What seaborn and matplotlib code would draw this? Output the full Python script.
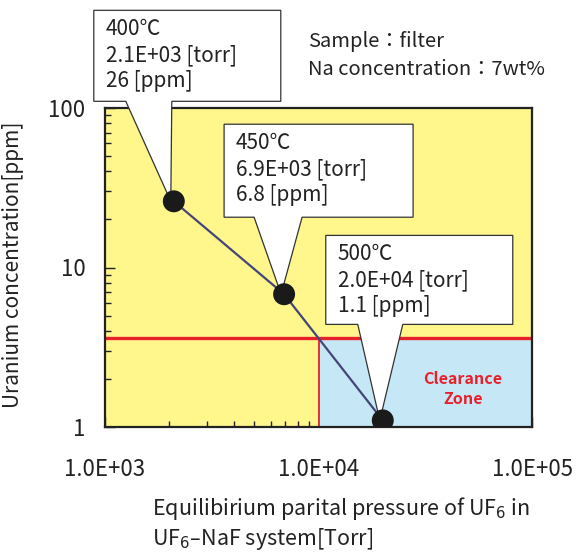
import numpy as np
import pandas as pd
import matplotlib
matplotlib.use("Agg")
import matplotlib.pyplot as plt
import matplotlib.transforms as mtransforms
from matplotlib.patches import Polygon, Rectangle
from matplotlib.ticker import FixedLocator, FixedFormatter, LogLocator, NullFormatter
import seaborn as sns

# ---- data ----
temperatures = [400, 450, 500]
pressure_torr = [2.1e3, 6.9e3, 2.0e4]
pressure_labels = ["2.1E+03", "6.9E+03", "2.0E+04"]
uranium_ppm = [26, 6.8, 1.1]
x_ticks = [1e3, 1e4, 1e5]
x_tick_labels = ["1.0E+03", "1.0E+04", "1.0E+05"]
y_ticks = [1, 10, 100]
y_tick_labels = ["1", "10", "100"]
clearance_limit_ppm = 3.6
clearance_x_start = 1e4

# ---- style ----
sns.set_style("ticks")
plt.rcParams["font.family"] = ["Noto Sans CJK JP", "DejaVu Sans"]
plt.rcParams["mathtext.fontset"] = "dejavusans"

YELLOW = "#FFF68C"
BLUE = "#C6E7F6"
RED = "#E8202A"
NAVY = "#45457A"
DARK = "#222222"

W, H = 587, 554
fig = plt.figure(figsize=(W / 100, H / 100), dpi=100)
ax = fig.add_axes([105 / W, 1 - 427 / H, 427 / W, 319 / H])
ax.set_xscale("log")
ax.set_yscale("log")
ax.set_xlim(x_ticks[0], x_ticks[-1])
ax.set_ylim(y_ticks[0], y_ticks[-1])
ax.set_facecolor(YELLOW)

# clearance zone
ax.add_patch(Rectangle((clearance_x_start, y_ticks[0]),
                       x_ticks[-1] - clearance_x_start,
                       clearance_limit_ppm - y_ticks[0],
                       facecolor=BLUE, edgecolor=RED, lw=1.3, zorder=1))
ax.axhline(clearance_limit_ppm, color=RED, lw=2.4, zorder=2)
ax.text(4.75e4, 1.74, "Clearance\nZone", color=RED, fontweight="bold",
        ha="center", va="center", fontsize=11.5, linespacing=1.3, zorder=3)

df = pd.DataFrame({"pressure": pressure_torr, "uranium": uranium_ppm,
                   "temp": temperatures})
sns.lineplot(data=df, x="pressure", y="uranium", color=NAVY, lw=1.6,
             ax=ax, zorder=3)
sns.scatterplot(data=df, x="pressure", y="uranium", color="#1a1a1a",
                s=250, edgecolor="none", ax=ax, zorder=8)

# callouts (offsets in pixels relative to each point)
callout_geom = [
    dict(L=-80, R=107, T=191, B=100, b1=-48, b2=-2),
    dict(L=-60, R=129, T=170, B=77, b1=-30, b2=18),
    dict(L=-57, R=130, T=185, B=96, b1=-25, b2=20),
]
for (t, px, pl, u), g in zip(zip(temperatures, pressure_torr, pressure_labels,
                                 uranium_ppm), callout_geom):
    trans = mtransforms.Affine2D().scale(fig.dpi / 100.0) + \
        mtransforms.ScaledTranslation(px, u, ax.transData)
    verts = [(g["L"], g["B"]), (g["b1"], g["B"]), (-3, 0), (g["b2"], g["B"]),
             (g["R"], g["B"]), (g["R"], g["T"]), (g["L"], g["T"])]
    poly = Polygon(verts, closed=True, facecolor="white", edgecolor="#333333",
                   lw=0.9, transform=trans, clip_on=False, zorder=6)
    ax.add_artist(poly)
    ax.text(g["L"] + 12, g["T"] - 8, f"{t}℃\n{pl} [torr]\n{u:g} [ppm]",
            transform=trans, ha="left", va="top", fontsize=15,
            linespacing=1.22, color="#222222", zorder=7)

# axes / ticks
ax.xaxis.set_major_locator(FixedLocator(x_ticks))
ax.xaxis.set_major_formatter(FixedFormatter(x_tick_labels))
ax.yaxis.set_major_locator(FixedLocator(y_ticks))
ax.yaxis.set_major_formatter(FixedFormatter(y_tick_labels))
for axis in (ax.xaxis, ax.yaxis):
    axis.set_minor_locator(LogLocator(base=10, subs=np.arange(2, 10)))
    axis.set_minor_formatter(NullFormatter())
ax.tick_params(which="both", direction="in", top=False, right=False,
               color=DARK, width=1.0)
ax.tick_params(which="major", length=7, labelsize=16, labelcolor="#222222")
ax.tick_params(which="minor", length=4)
ax.tick_params(axis="x", which="major", pad=22)
ax.tick_params(axis="y", which="major", pad=14)
for s in ax.spines.values():
    s.set_color(DARK)
    s.set_linewidth(1.6)
    s.set_zorder(5)

ax.set_ylabel("Uranium concentration[ppm]", fontsize=15, color="#222222")
ax.yaxis.set_label_coords(-0.19, 0.51)
ax.set_xlabel("Equilibirium parital pressure of UF$_6$ in\nUF$_6$–NaF system[Torr]",
              fontsize=15.5, color="#222222", ha="left", linespacing=1.22)
ax.xaxis.set_label_coords((152 - 105) / 427, (427 - 495) / 319)

fig.text(308 / W, 1 - 31 / H, "Sample：filter\nNa concentration：7wt%",
         ha="left", va="top", fontsize=14.5, linespacing=1.45, color="#222222")

fig.savefig("out.png", dpi=100)
